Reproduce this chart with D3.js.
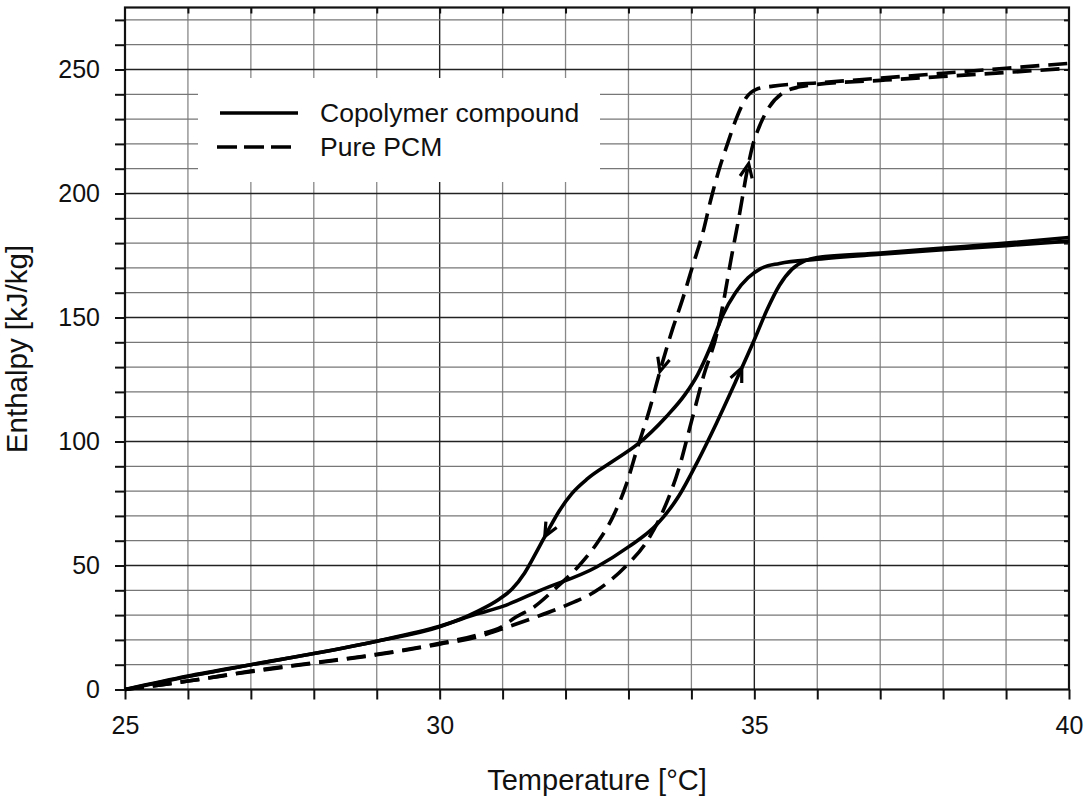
<!DOCTYPE html>
<html>
<head>
<meta charset="utf-8">
<script src="https://cdn.jsdelivr.net/npm/d3@7"></script>
<style>
  body { margin: 0; background: #fff; }
  svg text { font-family: "Liberation Sans", Arial, sans-serif; fill: #111; }
</style>
</head>
<body>
<div class="chart"></div>
<script>
// copolymer compound, heating branch (T in °C, H in kJ/kg)
let copoHeatT=[25,26,27,28,29,30,30.6,31,31.6,32.5,33.0,33.45,33.8,34.1,34.4,34.7,35.0,35.2,35.4,35.6,35.8,36,37,38,39,40]
let copoHeatH=[0,5.2,10,14.5,19.5,25.5,30.5,33.5,40,49.5,57.5,66.5,78,92,107.5,124,141,153,163,169.5,172.8,174.2,176,178,180,182.3]
// copolymer compound, cooling branch
let copoCoolT=[25,26,27,28,29,30,30.6,30.95,31.15,31.35,31.55,31.72,31.9,32.1,32.35,32.75,33.15,33.6,33.9,34.1,34.3,34.5,34.7,34.9,35.1,35.4,36,37,38,39,40]
let copoCoolH=[0,5.4,10,14.5,19.5,25.3,31.5,36.5,40.5,47,56,64,72,79,85,92,99,110,119,127,138,151,160,166,169.7,171.8,173.5,175.5,177.3,179,180.8]
// pure PCM, heating branch
let pcmHeatT=[25,26,27,28,29,30,30.6,31,31.45,31.95,32.5,32.95,33.3,33.55,33.8,34.0,34.2,34.4,34.5,34.63,34.76,34.89,34.97,35.08,35.24,35.45,35.72,36,37,38,39,40]
let pcmHeatH=[0,3.4,7.2,10.6,14,18.3,21.2,24.5,28.5,33.3,40,49.5,60,72,89,108,127,143,155,173.5,191,209.7,219,227,235,240.5,243,244,245.6,247.2,248.8,250.5]
// pure PCM, cooling branch
let pcmCoolT=[25,26,27,28,29,30,30.6,31,31.2,31.5,31.85,32.2,32.5,32.75,32.97,33.13,33.33,33.53,33.7,33.86,34.02,34.18,34.31,34.44,34.58,34.71,34.87,35.03,35.3,36,37,38,39,40]
let pcmCoolH=[0,3.4,7.4,10.8,14.2,18.6,22,25.5,29,33.3,41,49.5,59,69.5,83,96.4,112.5,131,145.3,157.4,170.8,184,197.7,209.7,220.5,230,238.6,242,243.3,244.6,246.5,248.5,250.5,252.5]

// arrow positions on the curves (T) and direction of travel
let arrowSeries=['copoCool','copoHeat','pcmCool','pcmHeat']
let arrowT=[31.67,34.8,33.5,34.91]
let arrowDir=[-1,1,-1,1]

let xTicks=[25,30,35,40]
let yTicks=[0,50,100,150,200,250]
let legendLabels=['Copolymer compound','Pure PCM']

let w=1085, h=799
let pLeft=125, pRight=1069, pTop=7.5, pBottom=689.5

let xScale=d3.scaleLinear().domain([25,40]).range([pLeft,pRight])
let yScale=d3.scaleLinear().domain([0,275]).range([pBottom,pTop])

let svg=d3.select('.chart').append('svg').attr('width',w).attr('height',h)

// grid
let vLines=d3.range(26,40)
let hLines=d3.range(10,280,10)
svg.append('g').selectAll('line').data(vLines).enter().append('line')
  .attr('x1',d=>xScale(d)).attr('x2',d=>xScale(d))
  .attr('y1',pTop).attr('y2',pBottom)
  .attr('stroke',d=>d%5==0?'#222':'#888').attr('stroke-width',d=>d%5==0?1.4:1.3)
svg.append('g').selectAll('line').data(hLines).enter().append('line')
  .attr('x1',pLeft).attr('x2',pRight)
  .attr('y1',d=>yScale(d)).attr('y2',d=>yScale(d))
  .attr('stroke',d=>d%50==0?'#222':'#777').attr('stroke-width',d=>d%50==0?1.4:1.3)

// legend background
svg.append('rect').attr('x',198).attr('y',78).attr('width',402).attr('height',104).attr('fill','#fff')

// axes
let xAxis=d3.axisBottom(xScale).tickValues(d3.range(25,41)).tickSize(10).tickPadding(17)
  .tickFormat(d=>xTicks.includes(d)?d:'')
let yAxis=d3.axisLeft(yScale).tickValues(d3.range(0,280,10)).tickSize(10).tickPadding(15)
  .tickFormat(d=>yTicks.includes(d)?d:'')
let xTop=d3.axisTop(xScale).tickValues(d3.range(26,40)).tickSize(-6).tickFormat('')
let yRight=d3.axisRight(yScale).tickValues(d3.range(10,280,10)).tickSize(-5).tickFormat('')

function styleAxis(g){
  g.select('.domain').remove()
  g.selectAll('line').attr('stroke','#111').attr('stroke-width',2)
  g.selectAll('text').style('font-size','25px').attr('fill','#111')
}
svg.append('g').attr('transform','translate(0,'+pBottom+')').call(xAxis).call(styleAxis)
svg.append('g').attr('transform','translate('+pLeft+',0)').call(yAxis).call(styleAxis)
svg.append('g').attr('transform','translate(0,'+pTop+')').call(xTop).call(styleAxis)
svg.append('g').attr('transform','translate('+pRight+',0)').call(yRight).call(styleAxis)

// frame
svg.append('rect').attr('x',pLeft).attr('y',pTop).attr('width',pRight-pLeft).attr('height',pBottom-pTop)
  .attr('fill','none').attr('stroke','#111').attr('stroke-width',2.2)

// curves
let series={
  copoHeat:{T:copoHeatT,H:copoHeatH,dash:null},
  copoCool:{T:copoCoolT,H:copoCoolH,dash:null},
  pcmHeat:{T:pcmHeatT,H:pcmHeatH,dash:'19,9'},
  pcmCool:{T:pcmCoolT,H:pcmCoolH,dash:'19,9'}
}
let line=d3.line().x(d=>xScale(d[0])).y(d=>yScale(d[1])).curve(d3.curveMonotoneX)
Object.keys(series).forEach(k=>{
  let s=series[k]
  let pts=s.T.map((t,i)=>[t,s.H[i]])
  svg.append('path').datum(pts).attr('d',line)
    .attr('fill','none').attr('stroke','#000').attr('stroke-width',3.6)
    .attr('stroke-dasharray',s.dash)
})

// arrowheads
arrowSeries.forEach((k,i)=>{
  let s=series[k]
  let interp=d3.scaleLinear().domain(s.T).range(s.H)
  let t=arrowT[i]
  let px=xScale(t), py=yScale(interp(t))
  let bx=xScale(t-arrowDir[i]*0.05), by=yScale(interp(t-arrowDir[i]*0.05))
  let a=Math.atan2(py-by,px-bx)
  let len=15, spread=0.42
  let p1=[px-len*Math.cos(a-spread),py-len*Math.sin(a-spread)]
  let p2=[px-len*Math.cos(a+spread),py-len*Math.sin(a+spread)]
  svg.append('path').attr('d','M'+p1+'L'+[px,py]+'L'+p2)
    .attr('fill','none').attr('stroke','#000').attr('stroke-width',3.2).attr('stroke-linejoin','miter')
})

// legend
let lg=svg.append('g')
lg.selectAll('line').data(legendLabels).enter().append('line')
  .attr('x1',(d,i)=>i==0?220:217).attr('x2',(d,i)=>i==0?298:292)
  .attr('y1',(d,i)=>113+i*34).attr('y2',(d,i)=>113+i*34)
  .attr('stroke','#000').attr('stroke-width',3.6)
  .attr('stroke-dasharray',(d,i)=>i==0?null:'20,7')
lg.selectAll('text').data(legendLabels).enter().append('text')
  .attr('x',320).attr('y',(d,i)=>113+i*34).attr('dy','0.35em')
  .style('font-size','26.5px').text(d=>d)

// axis titles
svg.append('text').attr('x',597).attr('y',790).attr('text-anchor','middle')
  .style('font-size','29px').text('Temperature [°C]')
svg.append('text').attr('transform','translate(27,349) rotate(-90)').attr('text-anchor','middle')
  .style('font-size','29.5px').text('Enthalpy [kJ/kg]')
</script>
</body>
</html>
